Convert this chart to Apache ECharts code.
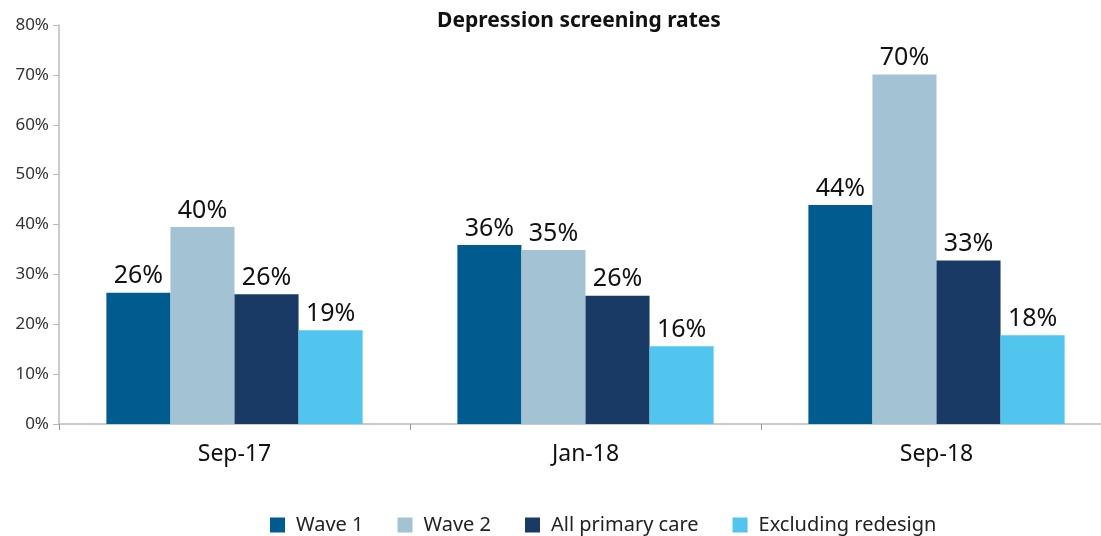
<!DOCTYPE html>
<html><head><meta charset="utf-8">
<script src="https://cdn.jsdelivr.net/npm/echarts@6/dist/echarts.min.js"></script>
<style>html,body{margin:0;padding:0;background:#fff}#c{width:1101px;height:536px}</style>
</head><body><div id="c"></div>
<script>
const categories = ['Sep-17', 'Jan-18', 'Sep-18'];
const wave1 = [26.3, 35.9, 43.9];
const wave2 = [39.5, 34.9, 70.1];
const allPrimary = [26.0, 25.7, 32.8];
const excluding = [18.8, 15.6, 17.8];
const seriesNames = ['Wave 1', 'Wave 2', 'All primary care', 'Excluding redesign'];
const colors = ['#005B8E', '#A3C3D5', '#1A3A66', '#52C5EE'];
const yTicks = [0, 10, 20, 30, 40, 50, 60, 70, 80];

const font = '"Noto Sans", sans-serif';
const chart = echarts.init(document.getElementById('c'));
const mk = (name, data, i) => ({
  name, type: 'bar', data,
  itemStyle: { color: colors[i] },
  barGap: '0%', barCategoryGap: '27%',
  label: { show: true, position: 'top', distance: 4, color: '#111', fontSize: 25, fontFamily: font,
    formatter: p => Math.round(p.value) + '%' }
});
chart.setOption({
  animation: false,
  title: { text: 'Depression screening rates', left: 574, top: 6, textAlign: 'center',
    textStyle: { fontSize: 21, fontWeight: 'bold', color: '#111', fontFamily: font } },
  grid: { left: 59, width: 1053, top: 25, bottom: 112, outerBoundsMode: 'none', containLabel: false },
  legend: { top: 510, left: 265, itemWidth: 15, itemHeight: 15, itemGap: 34,
    textStyle: { fontSize: 20, color: '#222', fontFamily: font, padding: [0, 0, 0, 6] }, icon: 'rect' },
  xAxis: { type: 'category', data: categories,
    axisLine: { lineStyle: { color: '#BBB', width: 1.5 } },
    axisTick: { show: true, length: 6, lineStyle: { color: '#999' } },
    axisLabel: { fontSize: 23, color: '#111', margin: 19, fontFamily: font } },
  yAxis: { type: 'value', min: yTicks[0], max: yTicks[yTicks.length - 1], interval: 10,
    axisLine: { show: true, lineStyle: { color: '#BBB', width: 1.5 } },
    axisTick: { show: true, length: 6, inside: false, lineStyle: { color: '#BBB' } },
    splitLine: { show: false },
    axisLabel: { formatter: '{value}%', fontSize: 17, color: '#333', margin: 10, fontFamily: font } },
  series: [mk(seriesNames[0], wave1, 0), mk(seriesNames[1], wave2, 1),
           mk(seriesNames[2], allPrimary, 2), mk(seriesNames[3], excluding, 3)]
});
</script></body></html>
